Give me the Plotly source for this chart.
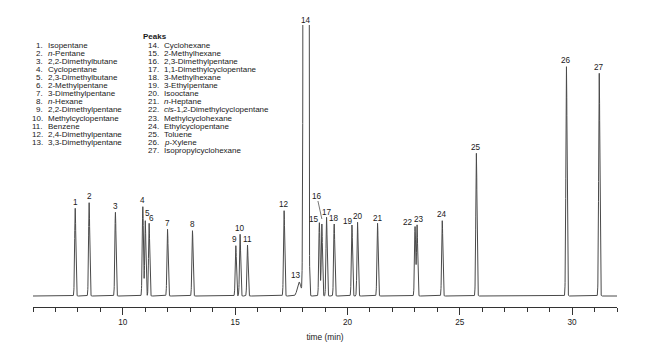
import numpy as np
import plotly.graph_objects as go

# ---------------- data ----------------
peak_ids = list(range(1, 28))
peak_names = [
    "Isopentane", "<i>n</i>-Pentane", "2,2-Dimethylbutane", "Cyclopentane",
    "2,3-Dimethylbutane", "2-Methylpentane", "3-Dimethylpentane", "<i>n</i>-Hexane",
    "2,2-Dimethylpentane", "Methylcyclopentane", "Benzene", "2,4-Dimethylpentane",
    "3,3-Dimethylpentane", "Cyclohexane", "2-Methylhexane", "2,3-Dimethylpentane",
    "1,1-Dimethylcyclopentane", "3-Methylhexane", "3-Ethylpentane", "Isooctane",
    "<i>n</i>-Heptane", "<i>cis</i>-1,2-Dimethylcyclopentane", "Methylcyclohexane",
    "Ethylcyclopentane", "Toluene", "<i>p</i>-Xylene", "Isopropylcyclohexane",
]
ret_times = [7.88, 8.50, 9.67, 10.89, 11.00, 11.17, 11.99, 13.10, 15.03, 15.22,
             15.55, 17.18, 17.85, 18.15, 18.75, 18.86, 19.07, 19.41, 20.20, 20.45,
             21.34, 23.01, 23.10, 24.22, 25.74, 29.75, 31.21]
# detector response (relative units); peak 14 is off-scale
heights = [87.7, 93.3, 83.7, 89.3, 75.3, 72.7, 66.7, 65.3, 50.3, 61.7,
           51.0, 85.3, 14.0, 20000.0, 73.3, 72.0, 78.7, 72.0, 71.0, 73.7,
           72.7, 69.3, 71.0, 75.3, 142.7, 229.3, 222.7]
peak_sigma = [0.026] * 27
peak_sigma[12] = 0.08
peak_sigma[13] = 0.046

x_ticks = [10, 15, 20, 25, 30]
x_label = "time (min)"

# ---------------- trace ----------------
t = np.union1d(np.arange(6.0, 32.0001, 0.004), np.array(ret_times))
signal = np.zeros_like(t)
for rt, h, s in zip(ret_times, heights, peak_sigma):
    signal += h * np.exp(-0.5 * ((t - rt) / s) ** 2)

FONT = "Liberation Sans, Arial, sans-serif"
TXT = "#1a1a1a"
FS = 8.0
Y_TOP = 271
Y_BOT = -11

fig = go.Figure()
fig.add_trace(go.Scatter(x=t, y=signal, mode="lines",
                         line=dict(color="#4a4a4a", width=1),
                         hoverinfo="skip", showlegend=False))

# peak label offsets (px): (dx, dy)
label_off = {5: (2, 7), 6: (2, 4.5), 9: (-1, 6.5), 10: (0, 5.5), 13: (-3, 7),
             14: (0, 6), 15: (-5, 3), 17: (0.7, 5.3), 18: (0, 5.3), 19: (-4.4, 4),
             20: (0, 6.3), 21: (0, 5), 22: (-7.3, 4), 23: (2, 6), 24: (0, 6.4)}

annotations = []
for pid, rt, h in zip(peak_ids, ret_times, heights):
    if pid == 16:
        annotations.append(dict(x=rt, y=h + 5, xref="x", yref="y", text=str(pid),
                                showarrow=True, arrowhead=0, arrowwidth=0.8,
                                arrowcolor="#555", ax=-5, ay=-23, standoff=0,
                                font=dict(family=FONT, size=8.2, color=TXT),
                                borderpad=0))
        continue
    dx, dy = label_off.get(pid, (0, 6))
    annotations.append(dict(x=rt, y=min(h, Y_TOP - 1), xref="x", yref="y",
                            text=str(pid), showarrow=False, xshift=dx, yshift=dy,
                            xanchor="center", yanchor="middle", borderpad=0,
                            font=dict(family=FONT, size=8.2, color=TXT)))

# page has an 8 px body margin; figure is sized so the plot lands where wanted
OFF = 8
W, H = 650 - OFF, 360 - OFF
L, T = 33 - OFF, 25 - OFF
R, B = 33, 53
pw, ph = W - L - R, H - T - B


def px2paper(px, py):
    return (px - OFF - L) / pw, (H + OFF - B - py) / ph


def add_text(px, py, text, anchor, bold=False):
    xp, yp = px2paper(px, py)
    annotations.append(dict(x=xp, y=yp, xref="paper", yref="paper",
                            text=f"<b>{text}</b>" if bold else text,
                            showarrow=False, xanchor=anchor, yanchor="middle",
                            borderpad=0,
                            font=dict(family=FONT, size=FS, color=TXT)))


add_text(142.3, 36.7, "Peaks", "left", bold=True)
for i in range(13):
    y = 45.4 + 8.07 * i
    add_text(43.8, y, f"{peak_ids[i]}.", "right")
    add_text(46.5, y, peak_names[i], "left")
for i in range(13, 27):
    y = 45.4 + 8.07 * (i - 13)
    add_text(159.8, y, f"{peak_ids[i]}.", "right")
    add_text(162.5, y, peak_names[i], "left")

fig.update_layout(
    width=W, height=H,
    margin=dict(l=L, r=R, t=T, b=B),
    paper_bgcolor="white", plot_bgcolor="white",
    annotations=annotations,
    font=dict(family=FONT, size=FS, color=TXT),
    xaxis=dict(range=[6, 32], tickvals=x_ticks, ticks="outside", ticklen=7,
               tickwidth=1, tickcolor="#333", showline=True, linecolor="#333",
               linewidth=1, showgrid=False, zeroline=False,
               tickfont=dict(family=FONT, size=8.2, color=TXT),
               minor=dict(dtick=1, tick0=0, ticks="outside", ticklen=4,
                          tickcolor="#333", showgrid=False),
               title=dict(text=x_label, font=dict(family=FONT, size=8.4, color=TXT),
                          standoff=8)),
    yaxis=dict(range=[Y_BOT, Y_TOP], visible=False, showgrid=False, zeroline=False),
)

fig.write_html("out.html")
